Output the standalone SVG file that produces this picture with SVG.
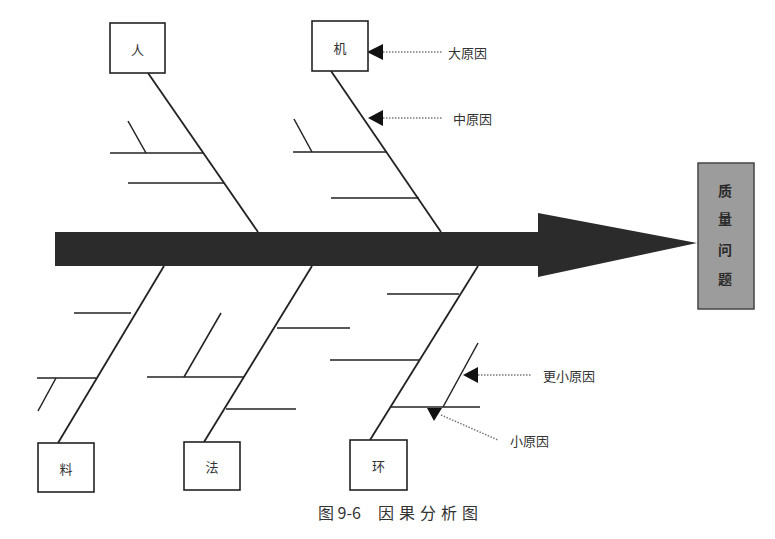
<svg xmlns="http://www.w3.org/2000/svg" width="775" height="539" viewBox="0 0 775 539">
<style>
.box{fill:#fff;stroke:#222;stroke-width:1.6}
.lbl{font-family:"Noto Sans CJK SC","Noto Sans CJK JP",sans-serif;font-size:13px;fill:#333;text-anchor:middle;dominant-baseline:central}
.head{font-family:"Noto Sans CJK SC","Noto Sans CJK JP",sans-serif;font-size:14px;font-weight:bold;fill:#2a2a2a;text-anchor:middle;dominant-baseline:central}
.note{font-family:"Noto Sans CJK SC","Noto Sans CJK JP",sans-serif;font-size:13px;fill:#333;dominant-baseline:central}
.bone{stroke:#222;stroke-width:1.8;fill:none}
.sub{stroke:#222;stroke-width:1.5;fill:none}
.dot{stroke:#777;stroke-width:1.5;stroke-dasharray:1.5 1.5;fill:none}
.tri{fill:#111}
</style>
<rect width="775" height="539" fill="#fff"/>
<g id="spine">
<path d="M55,232 L538,232 L538,213 L697,243 L538,277 L538,266 L55,266 Z" fill="#2b2b2b"/>
</g>
<g id="connectors">
<line class="bone" x1="148" y1="73" x2="258" y2="232"/>
<line class="sub" x1="110" y1="153" x2="203" y2="153"/>
<line class="sub" x1="128" y1="121" x2="146" y2="153"/>
<line class="sub" x1="128" y1="183" x2="224" y2="183"/>
<line class="bone" x1="331" y1="71" x2="441" y2="232"/>
<line class="sub" x1="293" y1="152" x2="387" y2="152"/>
<line class="sub" x1="294" y1="119" x2="312" y2="152"/>
<line class="sub" x1="331" y1="198" x2="419" y2="198"/>
<line class="bone" x1="164" y1="266" x2="58" y2="443"/>
<line class="sub" x1="74" y1="313" x2="131" y2="313"/>
<line class="sub" x1="37" y1="378" x2="96" y2="378"/>
<line class="sub" x1="56" y1="378" x2="38" y2="411"/>
<line class="bone" x1="312" y1="266" x2="204" y2="442"/>
<line class="sub" x1="277" y1="328" x2="350" y2="328"/>
<line class="sub" x1="147" y1="377" x2="244" y2="377"/>
<line class="sub" x1="184" y1="377" x2="221" y2="313"/>
<line class="sub" x1="226" y1="409" x2="296" y2="409"/>
<line class="bone" x1="478" y1="266" x2="370" y2="440"/>
<line class="sub" x1="387" y1="294" x2="459" y2="294"/>
<line class="sub" x1="330" y1="360" x2="419" y2="360"/>
<line class="sub" x1="390" y1="407" x2="480" y2="407"/>
<line class="sub" x1="443" y1="407" x2="478" y2="343"/>
<line class="dot" x1="383" y1="52" x2="442" y2="52"/>
<polygon class="tri" points="367,52 383,44 383,60"/>
<line class="dot" x1="383" y1="118" x2="442" y2="118"/>
<polygon class="tri" points="368,118 383,110 383,126"/>
<line class="dot" x1="478" y1="375" x2="532" y2="375"/>
<polygon class="tri" points="463,375 478,367 478,383"/>
<line class="dot" x1="441" y1="415" x2="498" y2="440"/>
<polygon class="tri" points="427,408 442,408 434,421"/>
</g>
<g id="node-ren"><rect class="box" x="110" y="23" width="55" height="50"/><text class="lbl" x="137.5" y="49">人</text></g>
<g id="node-ji"><rect class="box" x="312" y="21" width="56" height="50"/><text class="lbl" x="340" y="47">机</text></g>
<g id="node-liao"><rect class="box" x="38" y="443" width="56" height="49"/><text class="lbl" x="66" y="468">料</text></g>
<g id="node-fa"><rect class="box" x="184" y="442" width="56" height="48"/><text class="lbl" x="212" y="466">法</text></g>
<g id="node-huan"><rect class="box" x="350" y="440" width="57" height="50"/><text class="lbl" x="378.5" y="465">环</text></g>
<g id="node-head">
<rect x="698" y="163" width="56" height="146" fill="#9c9c9c" stroke="#444" stroke-width="1.5"/>
<text class="head" x="725" y="190">质</text>
<text class="head" x="725" y="218">量</text>
<text class="head" x="725" y="249">问</text>
<text class="head" x="725" y="278">题</text>
</g>
<g id="labels">
<text class="note" x="448" y="52">大原因</text>
<text class="note" x="453" y="118">中原因</text>
<text class="note" x="543" y="375">更小原因</text>
<text class="note" x="510" y="440">小原因</text>
</g>
<g id="caption">
<text x="318" y="519" font-family="'Noto Sans CJK SC',sans-serif" font-size="16" fill="#333">图 9-6</text>
<text x="378" y="519" font-family="'Noto Sans CJK SC',sans-serif" font-size="16" letter-spacing="5" fill="#333">因果分析图</text>
</g>
</svg>
